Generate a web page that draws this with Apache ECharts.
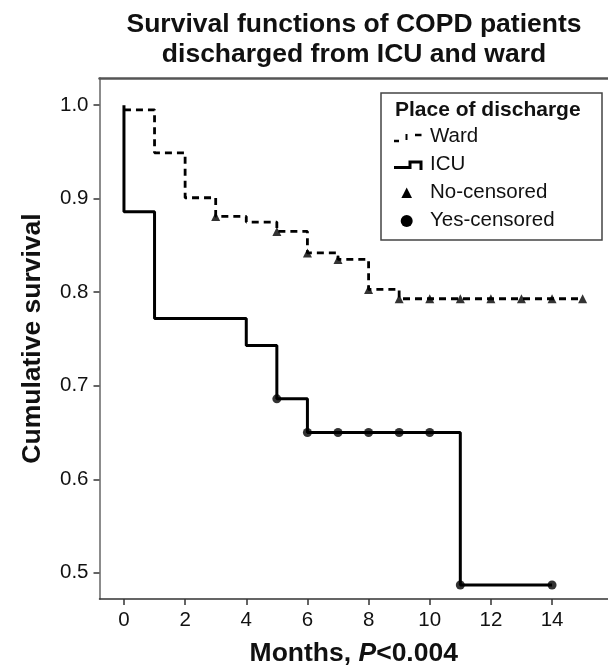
<!DOCTYPE html>
<html>
<head>
<meta charset="utf-8">
<script src="https://cdn.jsdelivr.net/npm/echarts@6/dist/echarts.min.js"></script>
<style>
  html, body { margin: 0; padding: 0; background: #fff; }
  #chart { width: 608px; height: 666px; }
</style>
</head>
<body>
<div id="chart"></div>
<script>
// Kaplan-Meier steps: [month, cumulative survival]
var wardSteps = [[0, 0.995], [1, 0.949], [2, 0.901], [3, 0.881], [4, 0.875], [5, 0.865],
  [6, 0.842], [7, 0.835], [8, 0.803], [9, 0.793], [15, 0.793]];
var icuSteps = [[0, 1.0], [0, 0.886], [1, 0.772], [4, 0.743], [5, 0.686], [6, 0.65],
  [11, 0.487], [14, 0.487]];

// censored marks
var wardCensored = [[3, 0.881], [5, 0.865], [6, 0.842], [7, 0.835], [8, 0.803],
  [9, 0.793], [10, 0.793], [11, 0.793], [12, 0.793], [13, 0.793], [14, 0.793], [15, 0.793]];
var icuCensored = [[5, 0.686], [6, 0.65], [7, 0.65], [8, 0.65], [9, 0.65], [10, 0.65],
  [11, 0.487], [14, 0.487]];

var xTicks = [0, 2, 4, 6, 8, 10, 12, 14];
var yTicks = [0.5, 0.6, 0.7, 0.8, 0.9, 1.0];

var legendTitle = 'Place of discharge';
var legendItems = ['Ward', 'ICU', 'No-censored', 'Yes-censored'];

var font = 'Liberation Sans, Arial, Helvetica, sans-serif';

var option = {
  animation: false,
  backgroundColor: '#fff',
  title: {
    text: 'Survival functions of COPD patients\ndischarged from ICU and ward',
    left: 349,
    top: 5,
    textAlign: 'center',
    textStyle: {
      fontFamily: font,
      fontSize: 26.5,
      fontWeight: 'bold',
      color: '#111',
      lineHeight: 30
    }
  },
  grid: {
    left: 99.5,
    top: 78,
    width: 508.5,
    height: 521,
    show: false,
    containLabel: false,
    outerBoundsMode: 'none'
  },
  xAxis: [{
    type: 'value',
    min: -0.8,
    max: 15.83,
    splitLine: { show: false },
    axisLine: { show: true, onZero: false, lineStyle: { color: '#333', width: 1.5 } },
    axisTick: { show: true, customValues: xTicks, length: 6, lineStyle: { color: '#333', width: 1.5 } },
    axisLabel: {
      customValues: xTicks,
      margin: 11,
      fontFamily: font,
      fontSize: 20.5,
      color: '#111'
    },
    name: '{b|Months, }{i|P}{b|<0.004}',
    nameLocation: 'middle',
    nameGap: 41,
    nameTextStyle: {
      rich: {
        b: { fontFamily: font, fontSize: 26.5, fontWeight: 'bold', color: '#111' },
        i: { fontFamily: font, fontSize: 26.5, fontWeight: 'bold', fontStyle: 'italic', color: '#111' }
      }
    }
  }, {
    // top frame line only
    type: 'value',
    position: 'top',
    min: -0.8,
    max: 15.83,
    splitLine: { show: false },
    axisLine: { show: true, onZero: false, lineStyle: { color: '#555', width: 2.5 } },
    axisTick: { show: false },
    axisLabel: { show: false }
  }],
  yAxis: {
    type: 'value',
    min: 0.472,
    max: 1.029,
    splitLine: { show: false },
    axisLine: { show: true, onZero: false, lineStyle: { color: '#666', width: 1.5 } },
    axisTick: { show: true, customValues: yTicks, length: 6, lineStyle: { color: '#333', width: 1.5 } },
    axisLabel: {
      customValues: yTicks,
      margin: 11,
      fontFamily: font,
      fontSize: 20.5,
      color: '#111',
      formatter: function (v) { return v.toFixed(1); }
    },
    name: 'Cumulative survival',
    nameLocation: 'middle',
    nameGap: 53,
    nameTextStyle: { fontFamily: font, fontSize: 26.5, fontWeight: 'bold', color: '#111' }
  },
  series: [
    {
      name: 'Ward',
      type: 'line',
      step: 'end',
      data: wardSteps,
      symbol: 'none',
      lineStyle: { color: '#000', width: 2.8, type: [7, 5] }
    },
    {
      name: 'ICU',
      type: 'line',
      step: 'end',
      data: icuSteps,
      symbol: 'none',
      lineStyle: { color: '#000', width: 3 }
    },
    {
      name: 'No-censored',
      type: 'scatter',
      data: wardCensored,
      symbol: 'triangle',
      symbolSize: 9,
      itemStyle: { color: '#000' },
      z: 5
    },
    {
      name: 'Yes-censored',
      type: 'scatter',
      data: icuCensored,
      symbol: 'circle',
      symbolSize: 9,
      itemStyle: { color: '#000' },
      z: 5
    }
  ],
  // legend box drawn by hand, like the SPSS one
  graphic: [
    {
      type: 'rect',
      shape: { x: 381, y: 93, width: 221, height: 147 },
      style: { fill: '#fff', stroke: '#444', lineWidth: 1.5 },
      z: 10
    },
    {
      type: 'text', left: 395, top: 100, z: 11,
      style: { text: legendTitle, font: 'bold 21px ' + font, fill: '#111' }
    },
    // ward icon, dashed step
    {
      type: 'polyline', z: 11,
      shape: { points: [[394, 141], [399, 141]] },
      style: { stroke: '#000', lineWidth: 2.5 }
    },
    {
      type: 'polyline', z: 11,
      shape: { points: [[406.5, 134], [406.5, 140]] },
      style: { stroke: '#000', lineWidth: 2 }
    },
    {
      type: 'polyline', z: 11,
      shape: { points: [[415, 135], [421.5, 135]] },
      style: { stroke: '#000', lineWidth: 2.5 }
    },
    // icu icon, solid step
    {
      type: 'polyline', z: 11,
      shape: { points: [[394, 167.5], [410, 167.5], [410, 162], [421, 162], [421, 170]] },
      style: { stroke: '#000', lineWidth: 3, fill: null }
    },
    {
      type: 'polygon', z: 11,
      shape: { points: [[406.7, 187.5], [412, 198], [401.4, 198]] },
      style: { fill: '#000' }
    },
    {
      type: 'circle', z: 11,
      shape: { cx: 406.7, cy: 221, r: 6 },
      style: { fill: '#000' }
    },
    {
      type: 'text', left: 430, top: 126, z: 11,
      style: { text: legendItems[0], font: '20.5px ' + font, fill: '#111' }
    },
    {
      type: 'text', left: 430, top: 154, z: 11,
      style: { text: legendItems[1], font: '20.5px ' + font, fill: '#111' }
    },
    {
      type: 'text', left: 430, top: 182, z: 11,
      style: { text: legendItems[2], font: '20.5px ' + font, fill: '#111' }
    },
    {
      type: 'text', left: 430, top: 210, z: 11,
      style: { text: legendItems[3], font: '20.5px ' + font, fill: '#111' }
    }
  ]
};

var myChart = echarts.init(document.getElementById('chart'));
myChart.setOption(option);
</script>
</body>
</html>
